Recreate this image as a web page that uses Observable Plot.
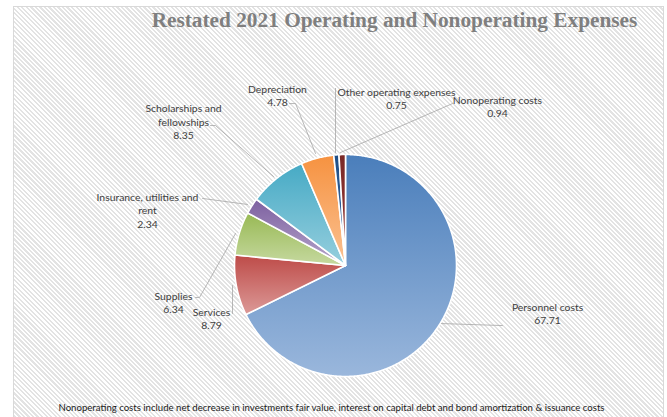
<!DOCTYPE html>
<html><head><meta charset="utf-8">
<script src="https://cdn.jsdelivr.net/npm/d3@7"></script>
<script src="https://cdn.jsdelivr.net/npm/@observablehq/plot@0.6"></script>
<style>
body{margin:0;background:#fff;}
#wrap{position:relative;width:667px;height:417px;overflow:hidden;}
#bg{position:absolute;left:13px;top:6px;width:649px;height:430px;border:1px solid #d9d9d9;
 background:repeating-linear-gradient(45deg,#ffffff 0px,#ffffff 1.6px,#e3e3e3 1.6px,#e3e3e3 3.2px);}
#chart{position:absolute;left:0;top:0;}
</style></head><body>
<div id="wrap"><div id="bg"></div><div id="chart"></div></div>
<script>
// ---- data ----
const categories = ["Personnel costs","Services","Supplies","Insurance, utilities and rent","Scholarships and fellowships","Depreciation","Other operating expenses","Nonoperating costs"];
const values = [67.71, 8.79, 6.34, 2.34, 8.35, 4.78, 0.75, 0.94];
const valueLabels = ["67.71","8.79","6.34","2.34","8.35","4.78","0.75","0.94"];
const labelNames = ["Personnel costs","Services","Supplies","Insurance, utilities and\nrent","Scholarships and\nfellowships","Depreciation","Other operating expenses","Nonoperating costs"];
const colorsTop = ["#4a7ebb","#be4b48","#98b954","#7d60a0","#46aac5","#f69240","#1f4e85","#7a2a28"];
const colorsBottom = ["#9ab7dc","#dc9a98","#c6d9a0","#b6a6cb","#97cfde","#fbc293","#3f6ea8","#9b3b38"];
const titleText = "Restated 2021 Operating and Nonoperating Expenses";
const footnoteText = "Nonoperating costs include net decrease in investments fair value, interest on capital debt and bond amortization & issuance costs";

// ---- layout (pie radius units, center = 0,0) ----
const labelPos = [[1.820,-0.428],[-1.207,-0.477],[-1.550,-0.329],[-1.784,0.50],[-1.459,1.297],[-0.613,1.536],[0.459,1.505],[1.369,1.437]];
const leaders = [
  [[0.865,-0.523],[1.414,-0.541]],
  [[-1.018,-0.180],[-1.018,-0.432]],
  [[-0.991,0.288],[-1.315,-0.288],[-1.351,-0.288]],
  [[-0.883,0.550],[-1.288,0.604]],
  [[-0.649,0.802],[-1.171,1.261],[-1.216,1.261]],
  [[-0.270,1.009],[-0.450,1.459],[-0.505,1.459]],
  [[-0.090,1.018],[-0.090,1.595]],
  [[-0.045,1.018],[0.964,1.459]]
];

const arcs = d3.pie().sort(null).value(d => d)(values);
const marks = [];
arcs.forEach((a, i) => {
  const pts = [{x: 0, y: 0}];
  const n = Math.max(2, Math.ceil((a.endAngle - a.startAngle) / (Math.PI / 360)));
  for (let k = 0; k <= n; k++) {
    const t = a.startAngle + (a.endAngle - a.startAngle) * k / n;
    pts.push({x: Math.sin(t), y: Math.cos(t)});
  }
  marks.push(Plot.line(pts, {x: "x", y: "y", curve: "linear-closed", fill: `url(#grad${i})`, stroke: "white", strokeWidth: 1.6, strokeLinejoin: "round"}));
});
const leaderPts = leaders.flatMap((l, i) => l.map(p => ({x: p[0], y: p[1], id: i})));
marks.push(Plot.line(leaderPts, {x: "x", y: "y", z: "id", stroke: "#a6a6a6", strokeWidth: 0.8}));
const labelData = labelNames.map((n, i) => ({x: labelPos[i][0], y: labelPos[i][1], t: n + "\n" + valueLabels[i]}));
marks.push(Plot.text(labelData, {x: "x", y: "y", text: "t", fontSize: 10.4, fill: "#404040", lineHeight: 1.28, textAnchor: "middle", fontFamily: "Lato, 'Open Sans', sans-serif"}));
marks.push(Plot.text([titleText], {frameAnchor: "top-left", dx: 394, dy: 20, lineAnchor: "middle", textAnchor: "middle", fontSize: 21.3, fontWeight: "bold", fill: "#7f7f7f", fontFamily: "'Liberation Serif', serif"}));
marks.push(Plot.text([footnoteText], {frameAnchor: "top-left", dx: 331, dy: 407, lineAnchor: "middle", textAnchor: "middle", fontSize: 9.6, fill: "#1a1a1a", fontFamily: "Lato, 'Open Sans', sans-serif"}));

const svg = Plot.plot({
  width: 667, height: 417, margin: 0,
  style: {background: "transparent"},
  x: {domain: [-1, 1], range: [234, 456], axis: null},
  y: {domain: [-1, 1], range: [376, 154], axis: null},
  marks
});
const defs = d3.create("svg:defs");
colorsTop.forEach((c, i) => {
  const g = defs.append("linearGradient").attr("id", "grad" + i).attr("x1", 0).attr("y1", 0).attr("x2", 0).attr("y2", 1);
  g.append("stop").attr("offset", "0%").attr("stop-color", c);
  g.append("stop").attr("offset", "100%").attr("stop-color", colorsBottom[i]);
});
svg.insertBefore(defs.node(), svg.firstChild);
document.getElementById("chart").appendChild(svg);
</script>
</body></html>
